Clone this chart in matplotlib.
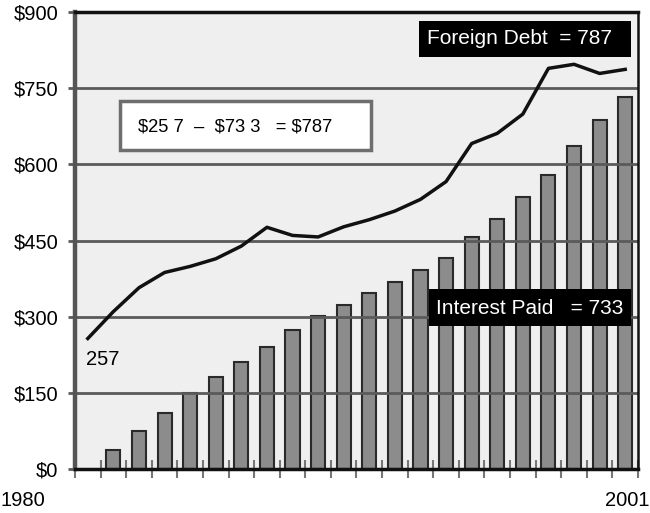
import matplotlib
matplotlib.use("Agg")
import matplotlib.pyplot as plt
from matplotlib.patches import Rectangle
import numpy as np

plt.rcParams['font.family'] = ['Liberation Sans', 'DejaVu Sans']

years = list(range(1980, 2002))
foreign_debt = [257, 310, 357, 387, 399, 414, 439, 476, 460, 457, 477, 491,
                508, 531, 566, 641, 661, 699, 789, 797, 779, 787]
bar_years = list(range(1981, 2002))
interest_paid = [37, 74, 110, 150, 181, 211, 241, 274, 301, 323, 346, 368,
                 391, 415, 456, 493, 535, 579, 636, 687, 733]
ytick_vals = [0, 150, 300, 450, 600, 750, 900]
ytick_labels = ['$0', '$150', '$300', '$450', '$600', '$750', '$900']

fig = plt.figure(figsize=(6.5, 5.13), dpi=100)
ax = fig.add_axes([75/650, 1-469/513, 563/650, 457/513])
ax.set_facecolor('#efefef')

ax.bar(bar_years, interest_paid, width=0.55, color='#8c8c8c',
       edgecolor='#2a2a2a', linewidth=1.5, zorder=2)
for v in ytick_vals[1:-1]:
    ax.axhline(v, color='#5a5a5a', linewidth=2, zorder=3)
ax.plot(years, foreign_debt, color='#111111', linewidth=2.5, zorder=4,
        solid_joinstyle='round')

ax.set_xlim(1979.5, 2001.5)
ax.set_ylim(0, 900)
ax.set_yticks(ytick_vals)
ax.set_yticklabels(ytick_labels, fontsize=14.5)
ax.tick_params(axis='y', length=5, width=2, color='#5a5a5a', pad=7)
ax.set_xticks(np.arange(1979.5, 2002, 1.0))
ax.set_xticklabels([])
ax.tick_params(axis='x', direction='inout', length=13, width=1.5, color='#777777')

for s in ['top', 'bottom', 'right']:
    ax.spines[s].set_color('#111111')
ax.spines['top'].set_linewidth(2.5)
ax.spines['bottom'].set_linewidth(2.5)
ax.spines['right'].set_linewidth(1.8)
ax.spines['left'].set_color('#555555')
ax.spines['left'].set_linewidth(3.2)
for s in ax.spines.values():
    s.set_zorder(6)

# Annotation boxes
ax.add_patch(Rectangle((0.611, 0.902), 0.377, 0.078, transform=ax.transAxes,
                       facecolor='black', edgecolor='none', zorder=7))
ax.text(0.790, 0.941, 'Foreign Debt  = 787', transform=ax.transAxes,
        color='white', fontsize=15, ha='center', va='center', zorder=8)

ax.add_patch(Rectangle((0.629, 0.313), 0.359, 0.081, transform=ax.transAxes,
                       facecolor='black', edgecolor='none', zorder=7))
ax.text(0.808, 0.352, 'Interest Paid   = 733', transform=ax.transAxes,
        color='white', fontsize=15, ha='center', va='center', zorder=8)

ax.add_patch(Rectangle((0.080, 0.697), 0.446, 0.108, transform=ax.transAxes,
                       facecolor='white', edgecolor='#6e6e6e', linewidth=2.5, zorder=7))
ax.text(0.112, 0.748, '$25 7  \u2013  $73 3   = $787', transform=ax.transAxes,
        color='black', fontsize=13.2, ha='left', va='center', zorder=8)

ax.text(0.020, 0.240, '257', transform=ax.transAxes, color='black',
        fontsize=14.5, ha='left', va='center', zorder=8)

fig.text(0/650, 1-500/513, '1980', fontsize=14.5, ha='left', va='center')
fig.text(649/650, 1-500/513, '2001', fontsize=14.5, ha='right', va='center')

fig.savefig('out.png', dpi=100)
